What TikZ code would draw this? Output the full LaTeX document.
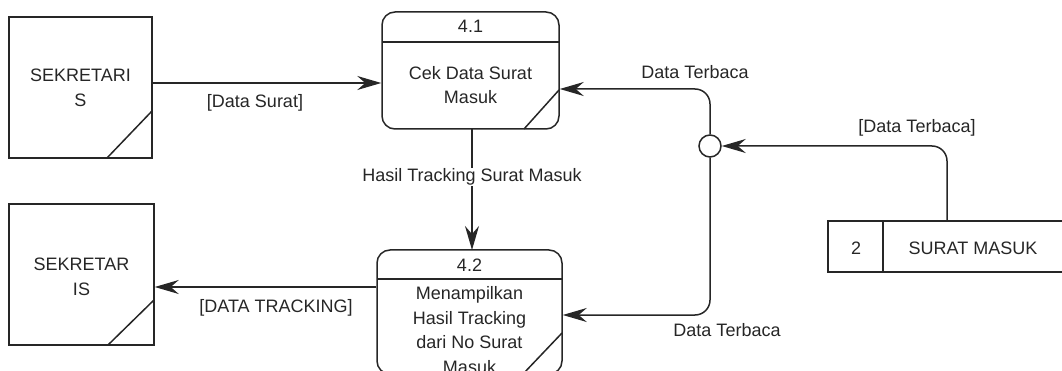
\documentclass[tikz,border=0pt]{standalone}
\usepackage{fontspec}
\setmainfont{Liberation Sans}
\usetikzlibrary{arrows.meta}
\begin{document}
\begin{tikzpicture}[x=1pt,y=-1pt,
  every node/.style={font=\fontsize{18}{24.7}\selectfont, text=black!85, inner sep=0pt},
  ln/.style={line width=1.5pt, draw=black!85},
  entity/.style={ln, draw, rectangle},
  proc/.style={ln, draw, rectangle, rounded corners=13pt},
  flow/.style={ln, rounded corners=15pt, -{Stealth[length=24pt,width=14pt,inset=8pt]}},
  lbl/.style={fill=white, inner sep=1pt}
]
\useasboundingbox (0,0) rectangle (1062,371);
\clip (0,0) rectangle (1062,371);

% entities
\node[entity, minimum width=143pt, minimum height=141pt] (s1) at (80.5,87.5) {};
\node[align=center] (s1t) at (80.5,88) {SEKRETARI\\S};
\draw[ln] (107,158) -- (152,111);

\node[entity, minimum width=145pt, minimum height=141pt] (s2) at (81.5,274.5) {};
\node[align=center] (s2t) at (81.5,277) {SEKRETAR\\IS};
\draw[ln] (108,345) -- (154,300);

% process 4.1
\node[proc, minimum width=177pt, minimum height=117pt] (p1) at (470.5,70.5) {};
\draw[ln] (382,42) -- (559,42);
\node (p1n) at (470.5,26) {4.1};
\node[align=center] (p1t) at (470.5,85) {Cek Data Surat\\Masuk};
\draw[ln] (524,129) -- (559,90);

% process 4.2
\node[proc, minimum width=185pt, minimum height=124pt] (p2) at (469.5,312) {};
\draw[ln] (377,279) -- (562,279);
\node (p2n) at (469.5,265) {4.2};
\node[align=center] (p2t) at (469.5,330) {Menampilkan\\Hasil Tracking\\dari No Surat\\Masuk};
\draw[ln] (523,374) -- (562,333);

% data store
\draw[ln] (1064,221) -- (828,221) -- (828,272) -- (1064,272);
\draw[ln] (883,221) -- (883,272);
\node (dsn) at (856,248) {2};
\node (ds) at (973,248) {SURAT MASUK};
\coordinate (dstop) at (947,221);

% junction
\node[ln, draw, circle, minimum size=22pt, fill=white] (j) at (710,146) {};

% flows
\draw[flow] (s1.east |- 0,83) -- (p1.west |- 0,83);
\node (l1) at (255,103) {[Data Surat]};

\draw[flow] (p2.west |- 0,287) -- (s2.east |- 0,287);
\node (l2) at (276,308) {[DATA TRACKING]};

\draw[flow] (472,129) -- (472,250);
\node[lbl] (l3) at (472,177) {Hasil Tracking Surat Masuk};

\draw[flow] (j.north) -- (710,89) -- (p1.east |- 0,89);
\node (l4) at (695,72) {Data Terbaca};

\draw[flow] (j.south) -- (710,315) -- (p2.east |- 0,315);
\node (l5) at (727,330) {Data Terbaca};

\draw[flow] (dstop) -- (947,146) -- (j.east);
\node (l6) at (917,128) {[Data Terbaca]};
\end{tikzpicture}
\end{document}
